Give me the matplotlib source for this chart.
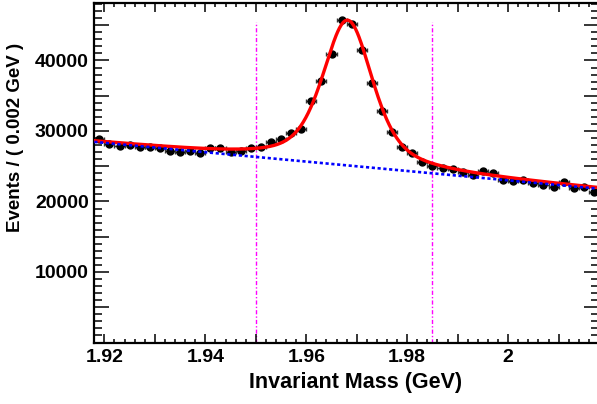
import numpy as np
import matplotlib
matplotlib.use('Agg')
import matplotlib.pyplot as plt
from matplotlib.ticker import MultipleLocator, FuncFormatter

plt.rcParams['font.family'] = ['Liberation Sans', 'DejaVu Sans']
plt.rcParams['font.weight'] = 'bold'

# binned data, 0.002 GeV bins from 1.918 to 2.018
mass = np.round(np.arange(1.919, 2.018, 0.002), 3)
counts = [28800, 28150, 27850, 28000, 27770, 27770, 27580, 27150, 27060, 27150,
          26830, 27530, 27530, 27060, 27150, 27530, 27700, 28470, 28810, 29660,
          30230, 34290, 37080, 40910, 45730, 45160, 41480, 36840, 32870, 29800,
          27770, 26830, 25640, 25070, 24700, 24560, 24130, 23750, 24320, 23990,
          23040, 22900, 23040, 22660, 22330, 22090, 22710, 21950, 22090, 21380]

# fit model parameters
bkg_lo, bkg_hi = 28450, 21800      # linear background at 1.918 and 2.018
sig_peak = 20600                   # signal height above background
sig_mean = 1.9682
sig_gamma = 0.0063
sig_sigma = 0.0048
sig_eta = 0.55                     # lorentzian fraction of pseudo-voigt

window = [1.950, 1.985]
window_top = 45500

xmin, xmax = 1.918, 2.018
ymax = 48150


def background(x):
    return bkg_lo + (bkg_hi - bkg_lo) * (x - xmin) / (xmax - xmin)


def signal(x):
    d = x - sig_mean
    lor = 1. / (1. + (d / sig_gamma) ** 2)
    gau = np.exp(-d ** 2 / (2 * sig_sigma ** 2))
    return sig_peak * (sig_eta * lor + (1 - sig_eta) * gau)


fig = plt.figure(figsize=(5.97, 4.04), dpi=100)
ax = fig.add_axes([94.3 / 597, 61.5 / 404, 504.7 / 597, 339.5 / 404])

counts = np.array(counts, dtype=float)
ax.errorbar(mass, counts, xerr=0.001, yerr=np.sqrt(counts), fmt='o', color='black',
            markersize=5, elinewidth=1, ecolor='#333333', capsize=1.5, zorder=2)

xs = np.linspace(xmin, xmax, 600)
ax.plot(xs, background(xs) + signal(xs), color='red', lw=2.4, zorder=3)
ax.plot(xs, background(xs), color='blue', lw=1.9, linestyle=(0, (1.2, 1.0)), zorder=4)

for w in window:
    ax.plot([w, w], [0, window_top], color='magenta', lw=1.0,
            linestyle=(0, (3, 1.5, 1, 1.5)), zorder=1)

ax.set_xlim(xmin, xmax)
ax.set_ylim(0, ymax)

ax.xaxis.set_major_locator(MultipleLocator(0.01))
ax.xaxis.set_minor_locator(MultipleLocator(0.002))
ax.yaxis.set_major_locator(MultipleLocator(5000))
ax.yaxis.set_minor_locator(MultipleLocator(1000))


def xfmt(v, pos):
    k = int(round(v * 100))
    if k % 2:
        return ''
    return '%g' % round(v, 2)


def yfmt(v, pos):
    if int(round(v)) % 10000 or v < 1:
        return ''
    return '%d' % v


ax.xaxis.set_major_formatter(FuncFormatter(xfmt))
ax.yaxis.set_major_formatter(FuncFormatter(yfmt))

ax.tick_params(axis='both', which='both', direction='in', top=True, right=True,
               labelsize=14, width=1.1)
ax.tick_params(axis='x', which='major', length=6.5, pad=5)
ax.tick_params(axis='x', which='minor', length=3)
ax.tick_params(axis='y', which='major', length=10.5, pad=4)
ax.tick_params(axis='y', which='minor', length=5.5)
for lab in ax.get_xticklabels() + ax.get_yticklabels():
    lab.set_fontweight('bold')
for sp in ax.spines.values():
    sp.set_linewidth(1.6)

ax.set_xlabel('Invariant Mass (GeV)', fontsize=15.5, fontweight='bold')
ax.xaxis.set_label_coords(0.518, -0.088)
ax.set_ylabel('Events / ( 0.002 GeV )', fontsize=13.5, fontweight='bold')
ax.yaxis.set_label_coords(-0.14, 0.605)

fig.savefig('out.png', dpi=100)
